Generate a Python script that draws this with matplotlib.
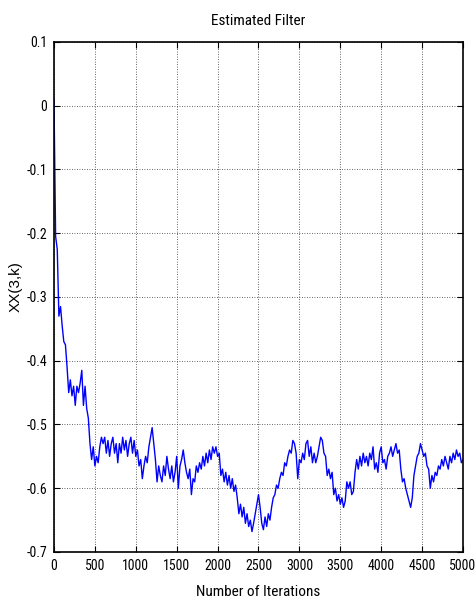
import matplotlib

matplotlib.use("Agg")

import matplotlib.pyplot as plt
import numpy as np
from matplotlib import font_manager

# XX(3,k), one value every 20 iterations (0 .. 5000)
xx3 = [
    0.01, -0.205, -0.225, -0.33, -0.315, -0.345, -0.37, -0.375, -0.41, -0.45,
    -0.43, -0.455, -0.44, -0.47, -0.44, -0.45, -0.435, -0.415, -0.47, -0.44,
    -0.475, -0.49, -0.53, -0.555, -0.535, -0.565, -0.55, -0.56, -0.535, -0.52,
    -0.53, -0.52, -0.545, -0.525, -0.55, -0.53, -0.52, -0.545, -0.53, -0.56,
    -0.53, -0.545, -0.52, -0.54, -0.525, -0.55, -0.53, -0.52, -0.545, -0.525,
    -0.55, -0.54, -0.565, -0.555, -0.585, -0.565, -0.55, -0.56, -0.535, -0.52,
    -0.505, -0.53, -0.555, -0.59, -0.565, -0.58, -0.59, -0.565, -0.58, -0.55,
    -0.57, -0.585, -0.565, -0.59, -0.575, -0.55, -0.60, -0.565, -0.555, -0.54,
    -0.56, -0.575, -0.585, -0.57, -0.61, -0.585, -0.59, -0.565, -0.575, -0.56,
    -0.57, -0.55, -0.565, -0.545, -0.56, -0.54, -0.555, -0.535, -0.545, -0.535,
    -0.55, -0.545, -0.58, -0.57, -0.59, -0.575, -0.595, -0.58, -0.60, -0.585,
    -0.605, -0.595, -0.615, -0.64, -0.625, -0.645, -0.63, -0.655, -0.64, -0.66,
    -0.65, -0.668, -0.655, -0.64, -0.625, -0.61, -0.63, -0.655, -0.665, -0.645,
    -0.66, -0.64, -0.65, -0.63, -0.615, -0.61, -0.595, -0.60, -0.585, -0.575,
    -0.58, -0.56, -0.565, -0.55, -0.54, -0.545, -0.525, -0.53, -0.545, -0.585,
    -0.555, -0.56, -0.545, -0.555, -0.53, -0.525, -0.55, -0.535, -0.56, -0.545,
    -0.56, -0.55, -0.535, -0.52, -0.525, -0.545, -0.55, -0.58, -0.57, -0.585,
    -0.575, -0.61, -0.60, -0.62, -0.61, -0.625, -0.615, -0.63, -0.62, -0.59,
    -0.60, -0.59, -0.61, -0.605, -0.575, -0.555, -0.57, -0.55, -0.565, -0.545,
    -0.56, -0.55, -0.565, -0.545, -0.555, -0.535, -0.57, -0.56, -0.575, -0.545,
    -0.535, -0.56, -0.555, -0.57, -0.55, -0.545, -0.535, -0.55, -0.54, -0.53,
    -0.545, -0.54, -0.57, -0.59, -0.585, -0.60, -0.61, -0.62, -0.63, -0.615,
    -0.58, -0.565, -0.55, -0.545, -0.53, -0.54, -0.55, -0.545, -0.565, -0.57,
    -0.60, -0.58, -0.59, -0.575, -0.58, -0.565, -0.57, -0.555, -0.565, -0.55,
    -0.56, -0.57, -0.55, -0.56, -0.545, -0.555, -0.54, -0.55, -0.545, -0.56,
    -0.555,
]
iterations = np.arange(len(xx3)) * 20

x_ticks = [0, 500, 1000, 1500, 2000, 2500, 3000, 3500, 4000, 4500, 5000]
y_ticks = [-0.7, -0.6, -0.5, -0.4, -0.3, -0.2, -0.1, 0, 0.1]
y_tick_labels = ["-0.7", "-0.6", "-0.5", "-0.4", "-0.3", "-0.2", "-0.1", "0", "0.1"]


def narrow_font(size):
    # the reference uses an Arial Narrow look; take any condensed sans installed
    preferred = ["Liberation Sans Narrow", "Arial Narrow", "Roboto Condensed",
                 "Open Sans Condensed", "Noto Sans Condensed", "DejaVu Sans"]
    found = {}
    for f in font_manager.fontManager.ttflist:
        if "Mono" in f.name or f.style != "normal":
            continue
        if str(f.weight) not in ("400", "normal", "regular", "book"):
            continue
        if "Narrow" in f.name or "Condensed" in f.name or f.stretch in ("condensed", "semi-condensed"):
            found.setdefault(f.name, f.fname)
    for name in preferred:
        if name in found:
            return font_manager.FontProperties(fname=found[name], size=size)
    if found:
        return font_manager.FontProperties(fname=next(iter(found.values())), size=size)
    return font_manager.FontProperties(family="Liberation Sans", size=size - 1.5)


tick_font = narrow_font(10)
title_font = narrow_font(11)

fig = plt.figure(figsize=(4.76, 6.04), dpi=100)
axis = fig.add_axes([0.1134, 0.0861, 0.8593, 0.8444])
axis.plot(iterations, xx3, color="#0000ff", linewidth=1.0)

axis.set_xlim(0, 5000)
axis.set_ylim(-0.7, 0.1)
axis.set_xticks(x_ticks)
axis.set_xticklabels([str(t) for t in x_ticks], fontproperties=tick_font)
axis.set_yticks(y_ticks)
axis.set_yticklabels(y_tick_labels, fontproperties=tick_font)
axis.tick_params(direction="in", top=True, right=True, length=4, width=0.8, pad=5)
axis.grid(True, color="#333333", linestyle=(0, (1, 2)), linewidth=0.6)
for spine in axis.spines.values():
    spine.set_linewidth(1.2)

axis.set_title("Estimated Filter", fontproperties=title_font, pad=12)
axis.set_xlabel("Number of Iterations", fontproperties=title_font, labelpad=9)
axis.set_ylabel("XX(3,k)", family=["Liberation Sans", "DejaVu Sans"], fontsize=11)
axis.yaxis.set_label_coords(-0.076, 0.52)

fig.savefig("out.png", dpi=100)
plt.close(fig)
